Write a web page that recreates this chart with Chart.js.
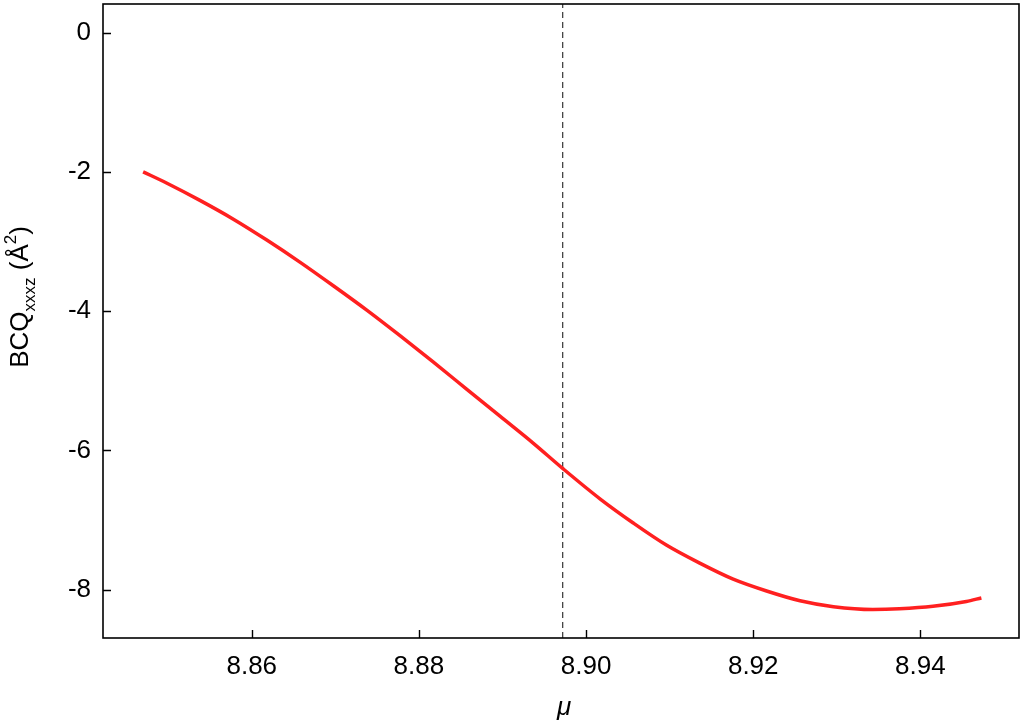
<!DOCTYPE html>
<html>
<head>
<meta charset="utf-8">
<script src="https://cdn.jsdelivr.net/npm/chart.js@4.4.1/dist/chart.umd.min.js"></script>
<style>
  html, body { margin: 0; padding: 0; background: #fff; }
  #wrap { width: 1027px; height: 722px; }
</style>
</head>
<body>
<div id="wrap"><canvas id="myChart" width="1027" height="722"></canvas></div>
<script>
// values
const mu_values = [8.8470, 8.8498, 8.8538, 8.8578, 8.8618, 8.8658, 8.8698, 8.8738, 8.8777,
    8.8817, 8.8857, 8.8897, 8.8937, 8.8972, 8.9017, 8.9056, 8.9096, 8.9136, 8.9176,
    8.9216, 8.9256, 8.9296, 8.9343, 8.9375, 8.9415, 8.9455, 8.9473];
const bcq_values = [-2.00, -2.16, -2.41, -2.68, -2.98, -3.30, -3.64, -3.99, -4.35,
    -4.73, -5.12, -5.51, -5.90, -6.26, -6.70, -7.04, -7.36, -7.62, -7.85,
    -8.02, -8.16, -8.245, -8.285, -8.275, -8.24, -8.17, -8.12];
const marker_mu = 8.8972;
const x_ticks = [8.86, 8.88, 8.90, 8.92, 8.94];
const y_ticks = [0, -2, -4, -6, -8];
const x_range = [8.8422, 8.9518];
const y_range = [-8.695, 0.41];

const font_family = 'Helvetica, "Liberation Sans", Arial, sans-serif';

curve_points = [];
mu_values.forEach((v, k) => {
    curve_points.push({ x: v, y: bcq_values[k] })
})

// box + inward ticks + axis titles
const frame_plugin = {
    id: 'frame',
    afterDatasetsDraw(chart) {
        const ctx = chart.ctx;
        const a = chart.chartArea;
        const sx = chart.scales.x;
        const sy = chart.scales.y;
        ctx.save();
        ctx.strokeStyle = '#000';
        ctx.lineWidth = 1.6;
        ctx.strokeRect(a.left, a.top, a.right - a.left, a.bottom - a.top);
        ctx.lineWidth = 1.4;
        ctx.beginPath();
        x_ticks.forEach((t) => {
            const px = Math.round(sx.getPixelForValue(t)) + 0.5;
            ctx.moveTo(px, a.bottom);
            ctx.lineTo(px, a.bottom - 8);
        })
        y_ticks.forEach((t) => {
            const py = Math.round(sy.getPixelForValue(t)) + 0.5;
            ctx.moveTo(a.left, py);
            ctx.lineTo(a.left + 8, py);
        })
        ctx.stroke();

        // x title
        ctx.fillStyle = '#000';
        ctx.font = 'italic 26px ' + font_family;
        ctx.textAlign = 'center';
        ctx.textBaseline = 'alphabetic';
        ctx.fillText('\u03bc', (a.left + a.right) / 2 + 3, 715);

        // y title, rotated, with sub/superscripts
        const parts = [
            ['BCQ', 26, 0],
            ['xxxz', 17, 7],
            [' (\u00c5', 26, 0],
            ['2', 17, -12],
            [')', 26, 0]
        ];
        let w = 0;
        parts.forEach((p) => {
            ctx.font = p[1] + 'px ' + font_family;
            w += ctx.measureText(p[0]).width;
        })
        ctx.translate(0, 297);
        ctx.rotate(-Math.PI / 2);
        ctx.textAlign = 'left';
        let cur = -w / 2;
        parts.forEach((p) => {
            ctx.font = p[1] + 'px ' + font_family;
            ctx.fillText(p[0], cur, 28 + p[2]);
            cur += ctx.measureText(p[0]).width;
        })
        ctx.restore();
    }
};

const ctx = document.getElementById('myChart');
const data = {
    datasets: [{
        label: 'BCQ',
        data: curve_points,
        borderColor: '#ff2020',
        borderWidth: 3.5,
        pointRadius: 0,
        cubicInterpolationMode: 'monotone',
        fill: false
    }, {
        label: 'marker',
        data: [{ x: marker_mu, y: y_range[0] }, { x: marker_mu, y: y_range[1] }],
        borderColor: '#444',
        borderWidth: 1.3,
        borderDash: [6, 4],
        pointRadius: 0,
        fill: false
    }]
};

const config = {
    type: 'line',
    data: data,
    options: {
        responsive: false,
        animation: false,
        layout: { padding: { left: 0, right: 8, top: 4, bottom: 0 } },
        scales: {
            x: {
                type: 'linear',
                min: x_range[0],
                max: x_range[1],
                afterBuildTicks: (scale) => { scale.ticks = x_ticks.map((v) => ({ value: v })) },
                afterFit: (scale) => {
                    scale.height = 84;
                    scale.paddingLeft = 0;
                    scale.paddingRight = 0;
                },
                grid: { display: false, drawTicks: false },
                border: { display: false },
                ticks: {
                    padding: 13,
                    color: '#000',
                    maxRotation: 0,
                    font: { family: font_family, size: 26 },
                    callback: (v) => v.toFixed(2)
                }
            },
            y: {
                type: 'linear',
                min: y_range[0],
                max: y_range[1],
                afterBuildTicks: (scale) => { scale.ticks = y_ticks.map((v) => ({ value: v })) },
                afterFit: (scale) => {
                    scale.width = 103;
                    scale.paddingTop = 0;
                    scale.paddingBottom = 0;
                },
                grid: { display: false, drawTicks: false },
                border: { display: false },
                ticks: {
                    padding: 12,
                    color: '#000',
                    font: { family: font_family, size: 26 },
                    callback: (v) => String(v)
                }
            }
        },
        plugins: {
            legend: { display: false },
            tooltip: { enabled: false }
        }
    },
    plugins: [frame_plugin]
};

chart = new Chart(ctx, config);
</script>
</body>
</html>
